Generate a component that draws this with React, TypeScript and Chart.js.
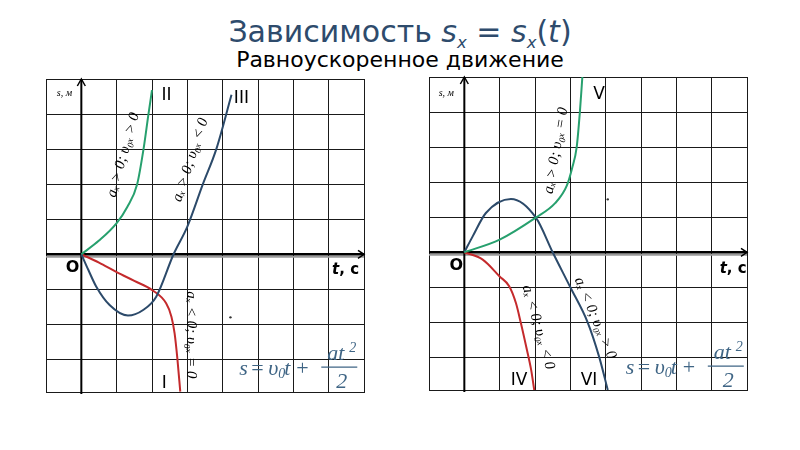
import { useEffect, useRef } from "react";
import { Chart, registerables } from "chart.js";

Chart.register(...registerables);

// grid (one cell = one unit on both axes)
const gridTicksX = [-1, 0, 1, 2, 3, 4, 5, 6, 7, 8];
const gridTicksY = [-3, -2, -1, 0, 1, 2, 3, 4, 5];
const xMin = -1;
const xMax = 8;
const yMin = -3.93;
const yMax = 5;

// left panel curves
const curveI_t = [0, 0.5, 1, 1.5, 2, 2.4, 2.55, 2.64, 2.72, 2.8];
const curveI_s = [0, -0.24, -0.51, -0.76, -1.02, -1.4, -1.78, -2.26, -3.0, -3.92];
const curveII_t = [0, 0.5, 1, 1.3, 1.58, 1.76, 1.9, 2.0];
const curveII_s = [0, 0.39, 0.89, 1.35, 2.0, 3.0, 4.0, 4.68];
const curveIII_t = [0, 0.2, 0.42, 0.8, 1.32, 1.75, 2.12, 2.61, 3.0, 3.44, 3.82, 4.25];
const curveIII_s = [0, -0.45, -0.92, -1.45, -1.75, -1.59, -1.21, 0, 0.79, 2.0, 3.0, 4.55];

// right panel curves
const curveIV_t = [0, 0.52, 1, 1.27, 1.46, 1.6, 1.75, 1.89, 1.98];
const curveIV_s = [0, -0.21, -0.69, -0.97, -1.45, -2.02, -2.69, -3.35, -3.94];
const curveV_t = [0, 1, 2.01, 2.57, 2.9, 3.05, 3.18, 3.27, 3.34];
const curveV_s = [0, 0.36, 0.98, 1.4, 1.9, 2.4, 3.0, 4.0, 5.0];
const curveVI_t = [0, 0.24, 0.61, 1.32, 2.03, 2.5, 3.0, 3.49, 3.82, 4.06];
const curveVI_s = [0, 0.46, 1.12, 1.52, 0.98, 0, -1.0, -2.0, -3.0, -3.93];

const GREEN = "#27a06e";
const BLUE = "#2c4a6a";
const RED = "#c42a2c";
const FORMULA = "#3f6585";

const ROMAN = "17px 'DejaVu Sans'";
const AXIS_NAME = "bold 15px 'DejaVu Sans'";
const NOTE = "italic 15px 'Liberation Serif'";
const UNIT = "italic 10px 'Liberation Serif'";

type Curve = { t: number[]; s: number[]; color: string };
type Label = {
  text: string;
  t: number;
  s: number;
  font: string;
  rot?: number;
  align?: CanvasTextAlign;
};
type PanelProps = {
  left: number;
  top: number;
  curves: Curve[];
  labels: Label[];
  formulaAt: [number, number];
  dotAt: [number, number];
};

const leftLabels: Label[] = [
  { text: "II", t: 2.41, s: 4.54, font: ROMAN },
  { text: "III", t: 4.53, s: 4.45, font: ROMAN },
  { text: "I", t: 2.35, s: -3.68, font: ROMAN },
  { text: "O", t: -0.25, s: -0.39, font: "bold 16px 'DejaVu Sans'" },
  { text: "t", t: 7.3, s: -0.45, font: "italic " + AXIS_NAME, align: "right" },
  { text: ", c", t: 7.3, s: -0.45, font: AXIS_NAME, align: "left" },
  { text: "s, м", t: -0.48, s: 4.6, font: UNIT },
  { text: "aₓ > 0; υ₀ₓ > 0", t: 1.19, s: 2.83, font: NOTE, rot: -74 },
  { text: "aₓ > 0; υ₀ₓ < 0", t: 3.09, s: 2.69, font: NOTE, rot: -72 },
  { text: "aₓ < 0; υ₀ₓ = 0", t: 3.11, s: -2.3, font: NOTE, rot: 90 },
];

const rightLabels: Label[] = [
  { text: "V", t: 3.81, s: 4.49, font: ROMAN },
  { text: "IV", t: 1.55, s: -3.67, font: ROMAN },
  { text: "VI", t: 3.53, s: -3.67, font: ROMAN },
  { text: "O", t: -0.23, s: -0.4, font: "bold 16px 'DejaVu Sans'" },
  { text: "t", t: 7.43, s: -0.49, font: "italic " + AXIS_NAME, align: "right" },
  { text: ", c", t: 7.43, s: -0.49, font: AXIS_NAME, align: "left" },
  { text: "s, м", t: -0.51, s: 4.52, font: UNIT },
  { text: "aₓ > 0; υ₀ₓ = 0", t: 2.6, s: 2.9, font: NOTE, rot: -80 },
  { text: "aₓ < 0; υ₀ₓ < 0", t: 2.09, s: -2.14, font: NOTE, rot: 74 },
  { text: "aₓ < 0; υ₀ₓ > 0", t: 3.7, s: -1.88, font: NOTE, rot: 67 },
];

function drawFormula(ctx: CanvasRenderingContext2D, x: number, y: number) {
  ctx.fillStyle = FORMULA;
  ctx.strokeStyle = FORMULA;
  ctx.textAlign = "left";
  ctx.textBaseline = "alphabetic";
  const it = "italic 22px 'Liberation Serif'";
  const up = "22px 'Liberation Serif'";
  const small = "italic 14px 'Liberation Serif'";
  const parts: [string, string, number, number][] = [
    ["s", it, 0, 7.5],
    ["=", up, 12, 7.5],
    ["υ", it, 29, 7.5],
    ["0", small, 39, 11],
    ["t", it, 45, 7.5],
    ["+", up, 57, 7.5],
    ["at", it, 88, -7],
    ["2", small, 110, -15],
    ["2", it, 97, 21],
  ];
  for (const [txt, font, dx, dy] of parts) {
    ctx.font = font;
    ctx.fillText(txt, x + dx, y + dy);
  }
  ctx.lineWidth = 1.2;
  ctx.beginPath();
  ctx.moveTo(x + 82, y);
  ctx.lineTo(x + 118, y);
  ctx.stroke();
}

function Panel({ left, top, curves, labels, formulaAt, dotAt }: PanelProps) {
  const canvasRef = useRef<HTMLCanvasElement>(null);

  useEffect(() => {
    if (!canvasRef.current) return;
    const overlay = {
      id: "slideOverlay",
      beforeDatasetsDraw(chart: Chart) {
        const { ctx, chartArea } = chart;
        const x0 = chart.scales.x.getPixelForValue(0);
        const y0 = chart.scales.y.getPixelForValue(0);
        ctx.save();
        // t axis with its grey shadow
        ctx.strokeStyle = "#9a9a9a";
        ctx.lineWidth = 2;
        ctx.beginPath();
        ctx.moveTo(chartArea.left, y0 + 2.5);
        ctx.lineTo(chartArea.right, y0 + 2.5);
        ctx.stroke();
        ctx.strokeStyle = "#000";
        ctx.lineWidth = 2.5;
        ctx.beginPath();
        ctx.moveTo(chartArea.left, y0);
        ctx.lineTo(chartArea.right, y0);
        ctx.stroke();
        ctx.lineWidth = 1.5;
        ctx.beginPath();
        ctx.moveTo(chartArea.right - 6, y0 - 4);
        ctx.lineTo(chartArea.right, y0);
        ctx.lineTo(chartArea.right - 6, y0 + 4);
        ctx.stroke();
        // s axis
        ctx.lineWidth = 2;
        ctx.beginPath();
        ctx.moveTo(x0, chartArea.bottom + 2);
        ctx.lineTo(x0, chartArea.top);
        ctx.stroke();
        ctx.lineWidth = 1.5;
        ctx.beginPath();
        ctx.moveTo(x0 - 4, chartArea.top + 7);
        ctx.lineTo(x0, chartArea.top);
        ctx.lineTo(x0 + 4, chartArea.top + 7);
        ctx.stroke();
        ctx.restore();
      },
      afterDatasetsDraw(chart: Chart) {
        const { ctx } = chart;
        const sx = chart.scales.x;
        const sy = chart.scales.y;
        ctx.save();
        for (const l of labels) {
          const px = sx.getPixelForValue(l.t);
          const py = sy.getPixelForValue(l.s);
          ctx.save();
          ctx.translate(px, py);
          if (l.rot) ctx.rotate((l.rot * Math.PI) / 180);
          ctx.font = l.font;
          ctx.fillStyle = "#000";
          ctx.textAlign = l.align ?? "center";
          ctx.textBaseline = "middle";
          ctx.fillText(l.text, 0, 0);
          ctx.restore();
        }
        ctx.fillStyle = "#333";
        ctx.beginPath();
        ctx.arc(sx.getPixelForValue(dotAt[0]), sy.getPixelForValue(dotAt[1]), 1.2, 0, Math.PI * 2);
        ctx.fill();
        drawFormula(ctx, sx.getPixelForValue(formulaAt[0]), sy.getPixelForValue(formulaAt[1]));
        ctx.restore();
      },
    };

    const chart = new Chart(canvasRef.current, {
      type: "line",
      data: {
        datasets: curves.map((c) => ({
          data: c.t.map((t, i) => ({ x: t, y: c.s[i] })),
          borderColor: c.color,
          borderWidth: 2,
          pointRadius: 0,
          cubicInterpolationMode: "monotone" as const,
          fill: false,
        })),
      },
      options: {
        animation: false,
        responsive: true,
        maintainAspectRatio: false,
        events: [],
        layout: { padding: 2 },
        plugins: { legend: { display: false }, tooltip: { enabled: false }, title: { display: false } },
        scales: {
          x: {
            type: "linear",
            min: xMin,
            max: xMax,
            ticks: { display: false },
            grid: { color: "#1a1a1a", lineWidth: 1, drawTicks: false },
            border: { display: true, color: "#1a1a1a", width: 1 },
            afterBuildTicks: (scale) => {
              scale.ticks = gridTicksX.map((value) => ({ value }));
            },
            afterFit: (scale) => {
              scale.height = 0;
            },
          },
          y: {
            type: "linear",
            min: yMin,
            max: yMax,
            ticks: { display: false },
            grid: { color: "#1a1a1a", lineWidth: 1, drawTicks: false },
            border: { display: true, color: "#1a1a1a", width: 1 },
            afterBuildTicks: (scale) => {
              scale.ticks = gridTicksY.map((value) => ({ value }));
            },
            afterFit: (scale) => {
              scale.width = 0;
            },
          },
        },
      },
      plugins: [overlay],
    });
    return () => chart.destroy();
  }, [curves, labels, formulaAt, dotAt]);

  return (
    <div style={{ position: "absolute", left, top, width: 322, height: 317 }}>
      <canvas ref={canvasRef} />
    </div>
  );
}

const leftCurves: Curve[] = [
  { t: curveII_t, s: curveII_s, color: GREEN },
  { t: curveIII_t, s: curveIII_s, color: BLUE },
  { t: curveI_t, s: curveI_s, color: RED },
];
const rightCurves: Curve[] = [
  { t: curveV_t, s: curveV_s, color: GREEN },
  { t: curveVI_t, s: curveVI_s, color: BLUE },
  { t: curveIV_t, s: curveIV_s, color: RED },
];

export default function App() {
  const sub = { fontSize: "0.55em", verticalAlign: "-0.35em", fontStyle: "italic" } as const;
  return (
    <div
      style={{
        position: "fixed",
        left: 0,
        top: 0,
        width: 800,
        height: 450,
        background: "#fff",
        fontFamily: "'DejaVu Sans', sans-serif",
      }}
    >
      <div
        style={{
          position: "absolute",
          top: 15,
          left: 0,
          width: 800,
          textAlign: "center",
          fontSize: 30,
          color: "#2e4b6c",
          lineHeight: "34px",
        }}
      >
        Зависимость <i>s</i>
        <span style={sub}>x</span> = <i>s</i>
        <span style={sub}>x</span>(<i>t</i>)
      </div>
      <div
        style={{
          position: "absolute",
          top: 47,
          left: 0,
          width: 800,
          textAlign: "center",
          fontSize: 22,
          color: "#000",
          lineHeight: "26px",
        }}
      >
        Равноускоренное движение
      </div>
      <Panel
        left={44}
        top={77}
        curves={leftCurves}
        labels={leftLabels}
        formulaAt={[4.47, -3.22]}
        dotAt={[4.22, -1.8]}
      />
      <Panel
        left={427}
        top={75}
        curves={rightCurves}
        labels={rightLabels}
        formulaAt={[4.57, -3.25]}
        dotAt={[4.06, 1.51]}
      />
    </div>
  );
}
